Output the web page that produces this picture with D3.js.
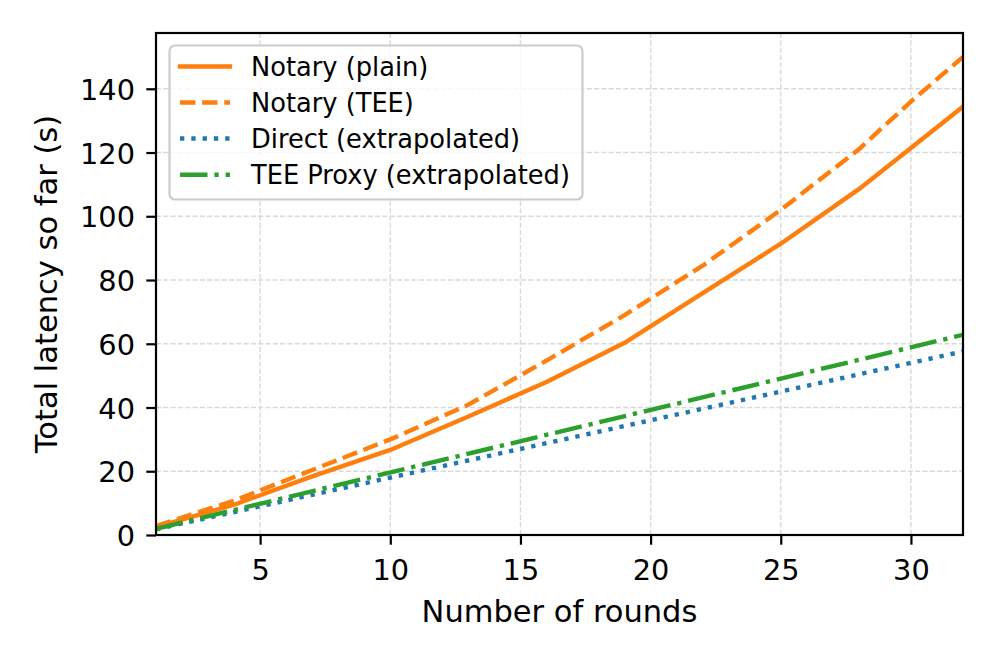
<!DOCTYPE html>
<html>
<head>
<meta charset="utf-8">
<script src="https://cdn.jsdelivr.net/npm/d3@7"></script>
<style>
  html, body { margin: 0; padding: 0; background: #fff; }
  svg { display: block; }
  text { font-family: "DejaVu Sans", sans-serif; fill: #000; }
</style>
</head>
<body>
<svg id="chart" width="997" height="664"></svg>
<script>
// ---- data ----
const notaryRounds = [1, 4, 7, 10, 13, 16, 19, 22, 25, 28, 30, 32];
const notaryPlain  = [2.5, 9.5, 18.4, 26.7, 37.2, 48.0, 60.3, 75.9, 91.4, 108.5, 121.4, 134.4];
const notaryTEE    = [2.8, 10.8, 20.4, 30.0, 40.9, 54.7, 69.0, 84.5, 102.0, 121.0, 136.0, 150.0];
const extrapRounds = [1, 32];
const directVals   = [1.8, 57.6];
const proxyVals    = [1.96, 62.8];
const xTicks = [5, 10, 15, 20, 25, 30];
const yTicks = [0, 20, 40, 60, 80, 100, 120, 140];
const seriesNames = ["Notary (plain)", "Notary (TEE)", "Direct (extrapolated)", "TEE Proxy (extrapolated)"];

// ---- layout ----
const L = 156, R = 963, T = 33, B = 535;
const svg = d3.select("#chart");
const x = d3.scaleLinear().domain([1, 32]).range([L, R]);
const y = d3.scaleLinear().domain([0, 157.5]).range([B, T]);

const gridColor = "#d9d9d9";
const tickLen = 9.7, tickPad = 9.7;
const tickFont = 28.8, labelFont = 30.5, legendFont = 25.7;

// grid
const grid = svg.append("g");
xTicks.forEach(t => grid.append("line")
  .attr("x1", x(t)).attr("x2", x(t)).attr("y1", T).attr("y2", B)
  .attr("stroke", gridColor).attr("stroke-width", 1.4).attr("stroke-dasharray", "5.1,2.2"));
yTicks.forEach(t => grid.append("line")
  .attr("x1", L).attr("x2", R).attr("y1", y(t)).attr("y2", y(t))
  .attr("stroke", gridColor).attr("stroke-width", 1.4).attr("stroke-dasharray", "5.1,2.2"));

// clip
svg.append("clipPath").attr("id", "clip").append("rect")
  .attr("x", L).attr("y", T).attr("width", R - L).attr("height", B - T);

const line = d3.line().x(d => x(d[0])).y(d => y(d[1]));
const lw = 4.4;
const series = [
  { rounds: notaryRounds, vals: notaryPlain, color: "#ff7f0e", dash: null, cap: "square" },
  { rounds: notaryRounds, vals: notaryTEE, color: "#ff7f0e", dash: "15.4,6.7", cap: "butt" },
  { rounds: extrapRounds, vals: directVals, color: "#1f77b4", dash: "4.3,7.0", cap: "butt" },
  { rounds: extrapRounds, vals: proxyVals, color: "#2ca02c", dash: "27.5,6.9,4.3,6.9", cap: "butt" }
];
const lines = svg.append("g").attr("clip-path", "url(#clip)");
series.forEach(s => {
  lines.append("path")
    .attr("d", line(s.rounds.map((r, i) => [r, s.vals[i]])))
    .attr("fill", "none").attr("stroke", s.color).attr("stroke-width", lw)
    .attr("stroke-linejoin", "round").attr("stroke-linecap", s.cap)
    .attr("stroke-dasharray", s.dash);
});

// axes
const xAxis = d3.axisBottom(x).tickValues(xTicks).tickSize(tickLen).tickPadding(tickPad).tickFormat(d3.format("d"));
const yAxis = d3.axisLeft(y).tickValues(yTicks).tickSize(tickLen).tickPadding(tickPad).tickFormat(d3.format("d"));
const gx = svg.append("g").attr("transform", `translate(0,${B})`).call(xAxis);
const gy = svg.append("g").attr("transform", `translate(${L},0)`).call(yAxis);
[gx, gy].forEach(g => {
  g.select(".domain").remove();
  g.selectAll(".tick line").attr("stroke", "#000").attr("stroke-width", 2.2);
  g.selectAll(".tick text").attr("font-size", tickFont).attr("font-family", "DejaVu Sans").attr("fill", "#000");
});
gx.selectAll(".tick text").attr("dy", null).attr("y", 580 - B).attr("dominant-baseline", "auto");
gy.selectAll(".tick text").attr("dy", null).attr("y", 10.5).attr("x", -21);

// spines
svg.append("rect").attr("x", L).attr("y", T).attr("width", R - L).attr("height", B - T)
  .attr("fill", "none").attr("stroke", "#000").attr("stroke-width", 2.2);

// axis labels
svg.append("text").attr("x", (L + R) / 2).attr("y", 622).attr("text-anchor", "middle")
  .attr("font-size", labelFont).text("Number of rounds");
svg.append("text").attr("transform", `translate(57,${(T + B) / 2}) rotate(-90)`)
  .attr("text-anchor", "middle").attr("font-size", labelFont).text("Total latency so far (s)");

// legend
const lg = svg.append("g");
lg.append("rect").attr("x", 169.5).attr("y", 45.5).attr("width", 413).attr("height", 154)
  .attr("rx", 5.5).attr("ry", 5.5)
  .attr("fill", "#fff").attr("fill-opacity", 0.8).attr("stroke", "#cccccc").attr("stroke-width", 2.2);
const rowY = [66.5, 102.5, 138.5, 174.8];
series.forEach((s, i) => {
  lg.append("line").attr("x1", 180).attr("x2", 230).attr("y1", rowY[i]).attr("y2", rowY[i])
    .attr("stroke", s.color).attr("stroke-width", lw)
    .attr("stroke-linecap", s.cap).attr("stroke-dasharray", s.dash);
  lg.append("text").attr("x", 251).attr("y", rowY[i] + 9.3).attr("font-size", legendFont)
    .text(seriesNames[i]);
});
</script>
</body>
</html>
